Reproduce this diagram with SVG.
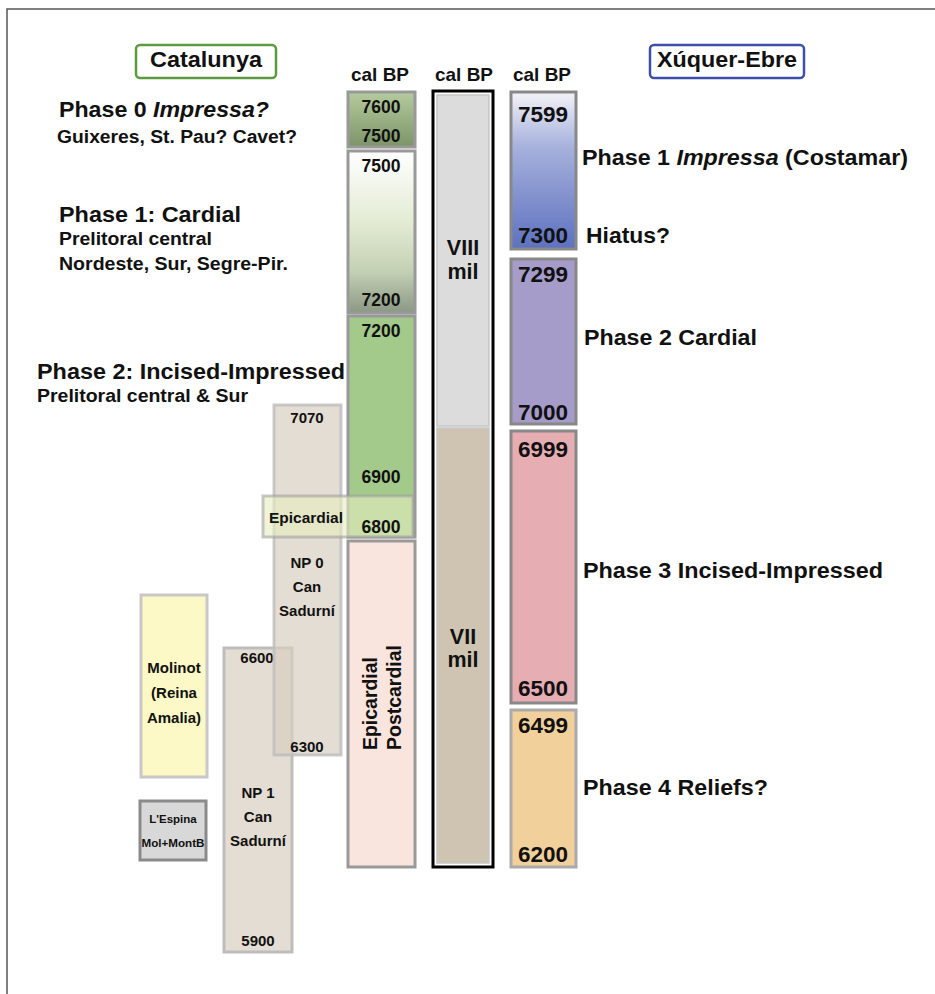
<svg xmlns="http://www.w3.org/2000/svg" width="935" height="994" viewBox="0 0 935 994">
<defs>
<linearGradient id="gA" x1="0" y1="0" x2="0" y2="1"><stop offset="0" stop-color="#b5cb9e"/><stop offset="1" stop-color="#7c9468"/></linearGradient>
<linearGradient id="gB" x1="0" y1="0" x2="0" y2="1"><stop offset="0" stop-color="#ffffff"/><stop offset="0.45" stop-color="#e2ebd2"/><stop offset="0.75" stop-color="#c3cfb3"/><stop offset="1" stop-color="#8a9784"/></linearGradient>
<linearGradient id="gX" x1="0" y1="0" x2="0" y2="1"><stop offset="0" stop-color="#f3f3f8"/><stop offset="0.35" stop-color="#a6b1dc"/><stop offset="1" stop-color="#5d71bf"/></linearGradient>
</defs>
<style>
text{font-family:"Liberation Sans",Arial,sans-serif;font-weight:bold;fill:#111}
.h{font-size:22px}
.s{font-size:18px}
.c{text-anchor:middle}
.n1{font-size:17.5px;text-anchor:middle}
.n2{font-size:22.5px;text-anchor:middle}
.np{font-size:15px;text-anchor:middle}
.box{stroke:#999;stroke-width:3}
.xbox{stroke:#888;stroke-width:3}
</style>
<path d="M7,994 V9 H935" fill="none" stroke="#555" stroke-width="1.5"/>
<g id="connectors"></g>

<g id="catalunya-title">
<rect x="136" y="45" width="140" height="33" rx="4" fill="#fff" stroke="#5b9a3e" stroke-width="2.5"/>
<text x="206" y="67" class="c" font-size="22" textLength="112" lengthAdjust="spacingAndGlyphs">Catalunya</text>
</g>
<g id="xuquer-title">
<rect x="650" y="45" width="154" height="33" rx="4" fill="#fff" stroke="#3d4fa8" stroke-width="2.5"/>
<text x="727" y="67" class="c" font-size="22" textLength="140" lengthAdjust="spacingAndGlyphs">Xúquer-Ebre</text>
</g>

<g id="calbp-labels">
<text x="380" y="81" class="c" font-size="19" textLength="58" lengthAdjust="spacingAndGlyphs">cal BP</text>
<text x="464" y="81" class="c" font-size="19" textLength="58" lengthAdjust="spacingAndGlyphs">cal BP</text>
<text x="542" y="81" class="c" font-size="19" textLength="58" lengthAdjust="spacingAndGlyphs">cal BP</text>
</g>

<g id="cat-phase0">
<text x="59" y="117" class="h" textLength="210" lengthAdjust="spacingAndGlyphs">Phase 0 <tspan font-style="italic">Impressa?</tspan></text>
<text x="57" y="143" class="s" textLength="240" lengthAdjust="spacingAndGlyphs">Guixeres, St. Pau? Cavet?</text>
</g>
<g id="cat-phase1">
<text x="59" y="222" class="h" textLength="182" lengthAdjust="spacingAndGlyphs">Phase 1: Cardial</text>
<text x="59" y="245" class="s" textLength="153" lengthAdjust="spacingAndGlyphs">Prelitoral central</text>
<text x="59" y="270" class="s" textLength="229" lengthAdjust="spacingAndGlyphs">Nordeste, Sur, Segre-Pir.</text>
</g>
<g id="cat-phase2">
<text x="37" y="379" class="h" textLength="308" lengthAdjust="spacingAndGlyphs">Phase 2: Incised-Impressed</text>
<text x="37" y="402" class="s" textLength="211" lengthAdjust="spacingAndGlyphs">Prelitoral central &amp; Sur</text>
</g>

<g id="col1-a">
<rect x="348" y="92" width="67" height="55" fill="url(#gA)" class="box"/>
<text x="381" y="113" class="n1">7600</text>
<text x="381" y="142" class="n1">7500</text>
</g>
<g id="col1-b">
<rect x="348" y="151" width="67" height="162" fill="url(#gB)" class="box"/>
<text x="381" y="172" class="n1">7500</text>
<text x="381" y="306" class="n1">7200</text>
</g>
<g id="col1-c">
<rect x="348" y="316" width="67" height="221" fill="#a3c98b" class="box"/>
</g>
<g id="col1-d">
<rect x="348" y="541" width="67" height="326" fill="#f9e5dd" class="box"/>
<text transform="translate(377,750) rotate(-90)" font-size="19.5" textLength="93" lengthAdjust="spacingAndGlyphs">Epicardial</text>
<text transform="translate(401,750) rotate(-90)" font-size="19.5" textLength="105" lengthAdjust="spacingAndGlyphs">Postcardial</text>
</g>

<g id="mil-column">
<rect x="433" y="91" width="60" height="776" fill="#fff" stroke="#000" stroke-width="3"/>
<rect x="437" y="95" width="52" height="331" fill="#dcdcdc" stroke="#c6c6c6" stroke-width="1.5"/>
<rect x="437" y="428" width="52" height="435" fill="#cfc4b2" stroke="#c6c6c6" stroke-width="1.5"/>
<text x="463" y="255" class="c" font-size="21.5">VIII</text>
<text x="463" y="279" class="c" font-size="21.5">mil</text>
<text x="463" y="644" class="c" font-size="21.5">VII</text>
<text x="463" y="667" class="c" font-size="21.5">mil</text>
</g>

<g id="np1">
<rect x="224" y="648" width="68" height="304" fill="#d9cfc0" fill-opacity="0.7" stroke="#bdbdbd" stroke-width="3"/>
<text x="257" y="663" class="np">6600</text>
<text x="258" y="798" class="np">NP 1</text>
<text x="258" y="822" class="np">Can</text>
<text x="258" y="846" class="np">Sadurní</text>
<text x="258" y="946" class="np">5900</text>
</g>
<g id="np0">
<rect x="274" y="405" width="67" height="350" fill="#d9cfc0" fill-opacity="0.7" stroke="#bdbdbd" stroke-opacity="0.8" stroke-width="3"/>
<text x="307" y="423" class="np">7070</text>
<text x="307" y="568" class="np">NP 0</text>
<text x="307" y="592" class="np">Can</text>
<text x="307" y="616" class="np">Sadurní</text>
<text x="307" y="752" class="np">6300</text>
</g>
<g id="epicardial">
<rect x="263" y="496" width="150" height="41" fill="#e6efbf" fill-opacity="0.6" stroke="#a0a0a0" stroke-opacity="0.6" stroke-width="3"/>
<text x="269" y="523" font-size="15.5" textLength="74" lengthAdjust="spacingAndGlyphs">Epicardial</text>
</g>
<g id="col1-c-labels">
<text x="381" y="337" class="n1">7200</text>
<text x="381" y="483" class="n1">6900</text>
<text x="381" y="533" class="n1">6800</text>
</g>
<g id="molinot">
<rect x="141" y="595" width="66" height="182" fill="#fcf9c6" stroke="#c8c8c8" stroke-width="3"/>
<text x="174" y="673" class="np" font-size="15.5">Molinot</text>
<text x="174" y="698" class="np" font-size="15.5">(Reina</text>
<text x="174" y="723" class="np" font-size="15.5">Amalia)</text>
</g>
<g id="espina">
<rect x="140" y="801" width="66" height="59" fill="#d8d8d8" stroke="#8a8a8a" stroke-width="3"/>
<text x="173" y="823" class="c" font-size="11.5">L'Espina</text>
<text x="173" y="847" class="c" font-size="11.5" textLength="63" lengthAdjust="spacingAndGlyphs">Mol+MontB</text>
</g>

<g id="xe-phase1">
<rect x="511" y="92" width="65" height="157" fill="url(#gX)" class="xbox"/>
<text x="543" y="122" class="n2">7599</text>
<text x="543" y="243" class="n2">7300</text>
<text x="582" y="165" class="h" textLength="326" lengthAdjust="spacingAndGlyphs">Phase 1 <tspan font-style="italic">Impressa</tspan> (Costamar)</text>
<text x="586" y="243" class="h" textLength="84" lengthAdjust="spacingAndGlyphs">Hiatus?</text>
</g>
<g id="xe-phase2">
<rect x="511" y="259" width="65" height="165" fill="#a59cc9" class="xbox"/>
<text x="543" y="282" class="n2">7299</text>
<text x="543" y="420" class="n2">7000</text>
<text x="584" y="345" class="h" textLength="173" lengthAdjust="spacingAndGlyphs">Phase 2 Cardial</text>
</g>
<g id="xe-phase3">
<rect x="511" y="431" width="65" height="272" fill="#e6adb3" class="xbox"/>
<text x="543" y="457" class="n2">6999</text>
<text x="543" y="696" class="n2">6500</text>
<text x="583" y="578" class="h" textLength="300" lengthAdjust="spacingAndGlyphs">Phase 3 Incised-Impressed</text>
</g>
<g id="xe-phase4">
<rect x="511" y="710" width="65" height="157" fill="#f2d09b" stroke="#aaa" stroke-width="3"/>
<text x="543" y="733" class="n2">6499</text>
<text x="543" y="862" class="n2">6200</text>
<text x="583" y="795" class="h" textLength="185" lengthAdjust="spacingAndGlyphs">Phase 4 Reliefs?</text>
</g>
</svg>
